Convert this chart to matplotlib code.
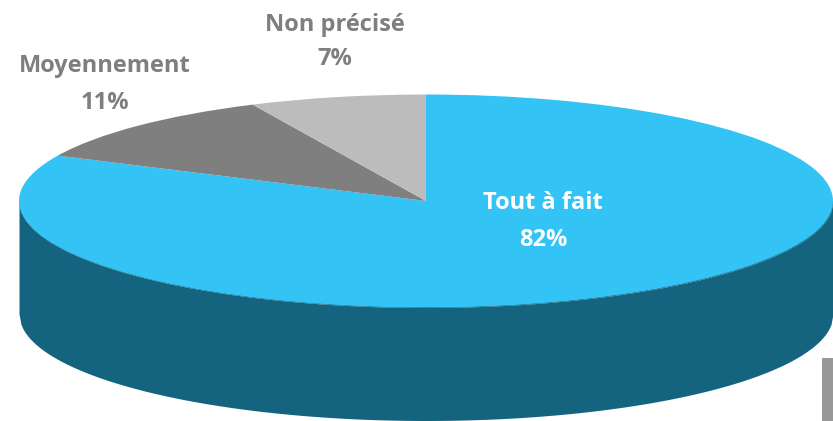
import matplotlib.pyplot as plt
from matplotlib.patches import Rectangle
import numpy as np

labels = ['Tout à fait', 'Moyennement', 'Non précisé']
values = [82, 11, 7]
colors = ['#33c3f5', '#7f7f7f', '#bcbcbc']
label_pos = [(543, 203, 240), (105, 66, 103), (335, 25, 59)]
label_colors = ['white', '#7f7f7f', '#7f7f7f']

W, H = 833, 421
cx, cy = 426, 201
rx, ry = 407, 106.5
depth = 113
wall_color = '#15647f'


def px(x, y):
    return x / W, 1 - y / H


fig = plt.figure(figsize=(W / 100, H / 100), dpi=100)
ax = fig.add_axes([0, 0, 1, 1])

# pie is drawn as a unit circle, the limits squash it into the flat ellipse
ax.pie(values, colors=colors, startangle=90, counterclock=False, radius=1,
       wedgeprops={'linewidth': 0, 'zorder': 3})
ax.set_aspect('auto')
ax.set_xlim(-cx / rx, (W - cx) / rx)
ax.set_ylim((cy - H) / ry, cy / ry)

xs = np.linspace(-1, 1, 400)
lower = -np.sqrt(1 - xs ** 2)
ax.fill_between(xs, lower - depth / ry, lower, color=wall_color, linewidth=0, zorder=2)
ax.fill_between(xs, lower, 0, color=wall_color, linewidth=0, zorder=1)

for lab, val, (x, y1, y2), c in zip(labels, values, label_pos, label_colors):
    fig.text(*px(x, y1), lab, color=c, fontsize=17, fontweight='bold',
             family='Open Sans', ha='center', va='center')
    fig.text(*px(x, y2), '%d%%' % val, color=c, fontsize=17, fontweight='bold',
             family='Open Sans', ha='center', va='center')

fig.add_artist(Rectangle(px(822, 421), 11 / W, 63 / H, transform=fig.transFigure,
                         facecolor='#999999', linewidth=0))

fig.savefig('out.png', dpi=100)
